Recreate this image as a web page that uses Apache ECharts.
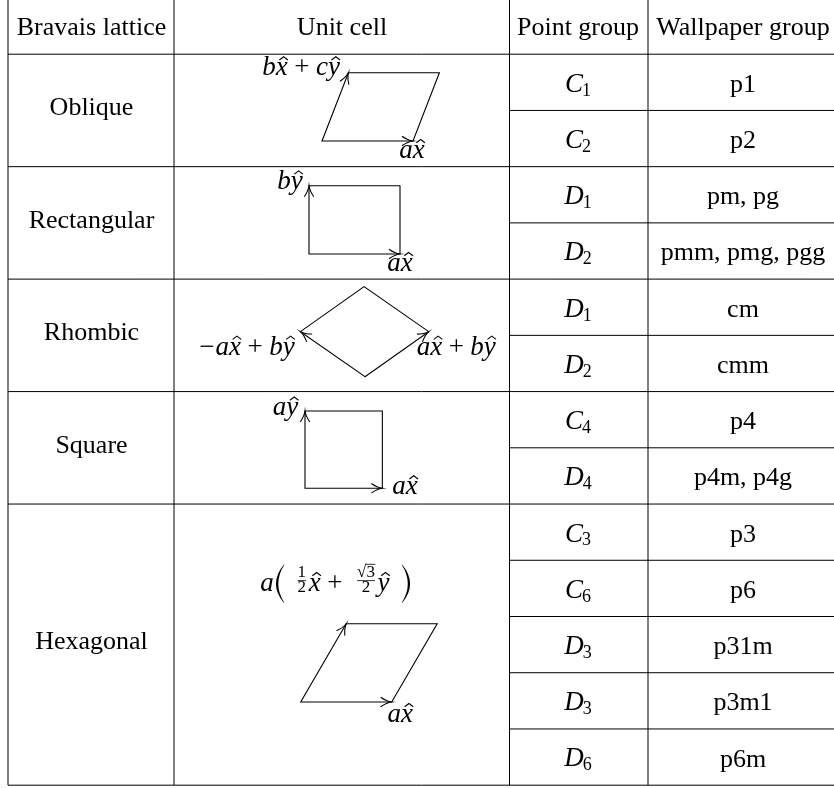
<!DOCTYPE html>
<html>
<head>
<meta charset="utf-8">
<script src="https://cdn.jsdelivr.net/npm/echarts@6/dist/echarts.min.js"></script>
<style>
html,body{margin:0;padding:0;background:#fff;}
#c{width:834px;height:788px;}
</style>
</head>
<body>
<div id="c"></div>
<script>
// ================= DATA =================
const headers = ['Bravais lattice', 'Unit cell', 'Point group', 'Wallpaper group'];
const lattices = ['Oblique', 'Rectangular', 'Rhombic', 'Square', 'Hexagonal'];
const latticeSpan = [2, 2, 2, 2, 5];
const pointGroupLetter = ['C', 'C', 'D', 'D', 'D', 'D', 'C', 'D', 'C', 'C', 'D', 'D', 'D'];
const pointGroupOrder = ['1', '2', '1', '2', '1', '2', '4', '4', '3', '6', '3', '3', '6'];
const wallpaperGroups = ['p1', 'p2', 'pm, pg', 'pmm, pmg, pgg', 'cm', 'cmm', 'p4', 'p4m, p4g', 'p3', 'p6', 'p31m', 'p3m1', 'p6m'];
// unit-cell basis vectors (x right, y up), in units of the drawn length of a
const cellA = [[1, 0], [1, 0], [0.70, 0.495], [0.85, 0], [1, 0]];
const cellB = [[0.29, 0.75], [0, 0.75], [-0.71, 0.495], [0, 0.85], [0.5, 0.86]];
// vector labels (tiny math markup: letter, letter^ = hat, + , − , ( ) , n/d fraction, _ = space)
const labelA = ['a x^', 'a x^', 'a x^ + b y^', 'a x^', 'a x^'];
const labelB = ['b x^ + c y^', 'b y^', '− a x^ + b y^', 'a y^', 'a ( 1/2 x^ + _ √3/2 y^ )'];

// ================= LAYOUT / STYLE =================
const FONT = '"Liberation Serif", "Times New Roman", serif';
const FS = 26, MATH_FS = 27, SUB_FS = 18, FRAC_FS = 17;
const colX = [8, 174, 509.5, 648, 840];
const colCenter = [91.5, 342, 578, 743];
const tableTop = -2, headerBottom = 54.2, rowH = 56.23;
const unit = 91;
const cellOrigin = [[322, 141], [309, 254], [365, 376.7], [305, 488.3], [300.7, 702]];
const posA = [
  {dx: -1, dy: 19, align: 'center'}, {dx: 0, dy: 19, align: 'center'},
  {dx: -12, dy: 25, align: 'left'}, {dx: 10, dy: 8, align: 'left'},
  {dx: 8.6, dy: 22, align: 'center'}
];
const posB = [
  {dx: -8.5, dy: 4.5, align: 'right'}, {dx: -6.3, dy: 5.7, align: 'right'},
  {dx: -5.7, dy: 25, align: 'right'}, {dx: -6.7, dy: 6.6, align: 'right'},
  {dx: -11, dy: -30.7, align: 'center'}
];
const K_MID = 0.34; // baseline offset for 'middle' aligned text

// ================= HELPERS =================
const mctx = document.createElement('canvas').getContext('2d');
function tw(text, size, italic) {
  mctx.font = (italic ? 'italic ' : '') + size + 'px ' + FONT;
  return mctx.measureText(text).width;
}
function textEl(x, base, text, size, italic, align) {
  return {
    type: 'text', x: x, y: base - K_MID * size, silent: true,
    style: {
      text: text, fontFamily: FONT, fontSize: size,
      fontStyle: italic ? 'italic' : 'normal',
      fill: '#000', align: align || 'left', verticalAlign: 'middle'
    }
  };
}
function fracPartWidth(s, size) {
  if (s[0] === '√') return tw('√', size, false) + tw(s.slice(1), size, false);
  return tw(s, size, false);
}
function mathElems(str, size, ax, base, align) {
  const em = size;
  const parts = [];
  let x = 0;
  str.split(' ').forEach(function (t) {
    let m;
    if (t === '+') {
      x += 0.24 * em;
      parts.push({k: 't', t: '+', x: x, it: false});
      x += tw('+', size, false) + 0.24 * em;
    } else if (t === '−') {
      parts.push({k: 't', t: '−', x: x, it: false});
      x += tw('−', size, false) + 0.04 * em;
    } else if (t === '_') {
      x += 0.2 * em;
    } else if (t === '(' || t === ')') {
      const open = t === '(';
      x += open ? 0.08 * em : 0.4 * em;
      parts.push({k: 'paren', open: open, x: x, w: 0.36 * em});
      x += 0.36 * em + (open ? 0.34 * em : 0);
    } else if ((m = t.match(/^(.+)\/(.+)$/))) {
      const wn = fracPartWidth(m[1], FRAC_FS), wd = fracPartWidth(m[2], FRAC_FS);
      const w = Math.max(wn, wd);
      x += 0.1 * em;
      parts.push({k: 'frac', num: m[1], den: m[2], x: x, w: w});
      x += w + 0.1 * em;
    } else if ((m = t.match(/^([A-Za-z])(\^?)$/))) {
      const w = tw(m[1], size, true);
      parts.push({k: 't', t: m[1], x: x, it: true, hat: !!m[2], w: w});
      x += w;
    }
  });
  const W = x;
  const x0 = align === 'right' ? ax - W : (align === 'center' ? ax - W / 2 : ax);
  const els = [];
  parts.forEach(function (p) {
    const px = x0 + p.x;
    if (p.k === 't') {
      els.push(textEl(px, base, p.t, size, p.it, 'left'));
      if (p.hat) {
        const cx = px + p.w / 2 + 0.07 * em, hw = 0.16 * em;
        els.push({type: 'polyline', silent: true,
          shape: {points: [[cx - hw, base - 0.64 * em], [cx, base - 0.76 * em], [cx + hw, base - 0.64 * em]]},
          style: {stroke: '#000', lineWidth: 1.1, fill: null}});
      }
    } else if (p.k === 'paren') {
      const yT = base - 1.05 * em, yB = base + 0.36 * em, ym = (yT + yB) / 2;
      const w = p.w;
      let d;
      if (p.open) {
        const ex = px + 0.8 * w;
        const co = 2 * px - ex, ci = co + 4;
        d = 'M' + ex + ',' + yT + ' Q' + co + ',' + ym + ' ' + ex + ',' + yB +
            ' L' + (ex + 0.6) + ',' + yB + ' Q' + ci + ',' + ym + ' ' + (ex + 0.6) + ',' + yT + ' Z';
      } else {
        const ex = px + 0.2 * w, mid = px + w;
        const co = 2 * mid - ex, ci = co - 4;
        d = 'M' + ex + ',' + yT + ' Q' + co + ',' + ym + ' ' + ex + ',' + yB +
            ' L' + (ex - 0.6) + ',' + yB + ' Q' + ci + ',' + ym + ' ' + (ex - 0.6) + ',' + yT + ' Z';
      }
      els.push({type: 'path', silent: true, shape: {pathData: d}, style: {fill: '#000', stroke: null}});
    } else if (p.k === 'frac') {
      const cx = px + p.w / 2;
      const numBase = base - 0.56 * em, denBase = base + 0.01 * em, barY = base - 0.46 * em;
      [[p.num, numBase], [p.den, denBase]].forEach(function (q) {
        const s = q[0], b = q[1];
        const ww = fracPartWidth(s, FRAC_FS);
        const sx = cx - ww / 2;
        if (s[0] === '√') {
          const rw = tw('√', FRAC_FS, false);
          els.push(textEl(sx, b, '√', FRAC_FS, false, 'left'));
          els.push(textEl(sx + rw, b, s.slice(1), FRAC_FS, false, 'left'));
          els.push({type: 'line', silent: true,
            shape: {x1: sx + rw - 0.5, y1: b - 0.8 * FRAC_FS, x2: sx + ww + 0.5, y2: b - 0.8 * FRAC_FS},
            style: {stroke: '#000', lineWidth: 0.8}});
        } else {
          els.push(textEl(sx, b, s, FRAC_FS, false, 'left'));
        }
      });
      els.push({type: 'line', silent: true,
        shape: {x1: px, y1: barY, x2: px + p.w, y2: barY},
        style: {stroke: '#000', lineWidth: 0.8}});
    }
  });
  return els;
}

// ================= BUILD SERIES DATA =================
const nRows = pointGroupOrder.length;
const tableBottom = headerBottom + nRows * rowH;
const latticeEnds = [];
latticeSpan.reduce(function (acc, s) { latticeEnds.push(acc + s); return acc + s; }, 0);

const segments = [];
segments.push([colX[0], headerBottom, colX[4], headerBottom]);
for (let k = 1; k <= nRows; k++) {
  const y = headerBottom + k * rowH;
  const full = latticeEnds.indexOf(k) >= 0;
  segments.push([full ? colX[0] : colX[2], y, colX[4], y]);
}
colX.forEach(function (x) { segments.push([x, tableTop, x, tableBottom]); });

const cellSpecs = [];
headers.forEach(function (h, i) {
  cellSpecs.push({kind: 'plain', x: colCenter[i], y: (tableTop + headerBottom) / 2 + 11, text: h});
});
let startRow = 0;
lattices.forEach(function (name, i) {
  const yc = headerBottom + (startRow + latticeSpan[i] / 2) * rowH;
  cellSpecs.push({kind: 'plain', x: colCenter[0], y: yc + 6.8, text: name});
  startRow += latticeSpan[i];
});
for (let r = 0; r < nRows; r++) {
  const yc = headerBottom + (r + 0.5) * rowH;
  cellSpecs.push({kind: 'pg', x: colCenter[2], y: yc + 11.5, letter: pointGroupLetter[r], sub: pointGroupOrder[r]});
  cellSpecs.push({kind: 'plain', x: colCenter[3], y: yc + 11.5, text: wallpaperGroups[r]});
}

function arrowHead(tip, from) {
  const dx = tip[0] - from[0], dy = tip[1] - from[1];
  const len = Math.sqrt(dx * dx + dy * dy);
  const ux = dx / len, uy = dy / len, nx = -uy, ny = ux;
  const L = 11, Wd = 4.8;
  const b1 = [tip[0] - L * ux + Wd * nx, tip[1] - L * uy + Wd * ny];
  const b2 = [tip[0] - L * ux - Wd * nx, tip[1] - L * uy - Wd * ny];
  const c1 = [tip[0] - 0.45 * L * ux + 0.6 * nx, tip[1] - 0.45 * L * uy + 0.6 * ny];
  const c2 = [tip[0] - 0.45 * L * ux - 0.6 * nx, tip[1] - 0.45 * L * uy - 0.6 * ny];
  return {type: 'path', silent: true,
    shape: {pathData: 'M' + b1[0] + ',' + b1[1] + ' Q' + c1[0] + ',' + c1[1] + ' ' + tip[0] + ',' + tip[1] +
      ' Q' + c2[0] + ',' + c2[1] + ' ' + b2[0] + ',' + b2[1]},
    style: {stroke: '#000', lineWidth: 1.1, fill: null}};
}

// ================= CHART =================
const chart = echarts.init(document.getElementById('c'), null, {renderer: 'canvas'});
chart.setOption({
  animation: false,
  backgroundColor: '#fff',
  grid: {left: 0, right: 0, top: 0, bottom: 0},
  xAxis: {type: 'value', min: 0, max: 834, show: false},
  yAxis: {type: 'value', min: 0, max: 788, inverse: true, show: false},
  series: [
    {
      type: 'custom', name: 'rules', coordinateSystem: 'cartesian2d', clip: false, silent: true,
      data: segments, encode: {x: [0, 2], y: [1, 3]},
      renderItem: function (params, api) {
        const p1 = api.coord([api.value(0), api.value(1)]);
        const p2 = api.coord([api.value(2), api.value(3)]);
        return {type: 'line', shape: {x1: p1[0], y1: p1[1], x2: p2[0], y2: p2[1]},
          style: {stroke: '#000', lineWidth: 1}};
      }
    },
    {
      type: 'custom', name: 'cells', coordinateSystem: 'cartesian2d', clip: false, silent: true,
      data: cellSpecs.map(function (s) { return [s.x, s.y]; }),
      renderItem: function (params, api) {
        const s = cellSpecs[params.dataIndex];
        const p = api.coord([api.value(0), api.value(1)]);
        if (s.kind === 'plain') {
          return textEl(p[0], p[1], s.text, FS, false, 'center');
        }
        const wl = tw(s.letter, MATH_FS, true), ws = tw(s.sub, SUB_FS, false);
        const W = wl + ws - 1;
        const x0 = p[0] - W / 2;
        return {type: 'group', children: [
          textEl(x0, p[1], s.letter, MATH_FS, true, 'left'),
          textEl(x0 + wl - 1, p[1] + 3.2, s.sub, SUB_FS, false, 'left')
        ]};
      }
    },
    {
      type: 'custom', name: 'unitcells', coordinateSystem: 'cartesian2d', clip: false, silent: true,
      data: cellOrigin,
      renderItem: function (params, api) {
        const i = params.dataIndex;
        const ox = api.value(0), oy = api.value(1);
        const A = cellA[i], B = cellB[i];
        const O = api.coord([ox, oy]);
        const PA = api.coord([ox + A[0] * unit, oy - A[1] * unit]);
        const PB = api.coord([ox + B[0] * unit, oy - B[1] * unit]);
        const PAB = api.coord([ox + (A[0] + B[0]) * unit, oy - (A[1] + B[1]) * unit]);
        const children = [
          {type: 'polygon', silent: true, shape: {points: [O, PA, PAB, PB]},
            style: {stroke: '#000', lineWidth: 1.1, fill: null}},
          arrowHead(PA, O),
          arrowHead(PB, O)
        ];
        const la = posA[i], lb = posB[i];
        mathElems(labelA[i], MATH_FS, PA[0] + la.dx, PA[1] + la.dy, la.align).forEach(function (e) { children.push(e); });
        mathElems(labelB[i], MATH_FS, PB[0] + lb.dx, PB[1] + lb.dy, lb.align).forEach(function (e) { children.push(e); });
        return {type: 'group', children: children};
      }
    }
  ]
});
</script>
</body>
</html>
